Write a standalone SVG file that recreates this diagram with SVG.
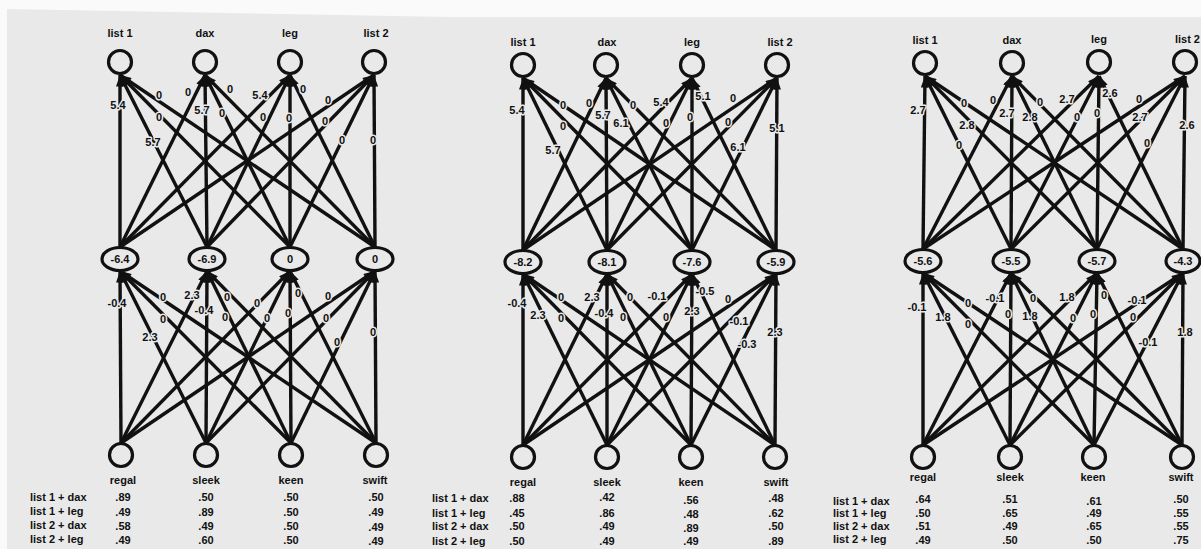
<svg xmlns="http://www.w3.org/2000/svg" width="1201" height="549" viewBox="0 0 1201 549">
  <style>
    .e { stroke: #111; stroke-width: 3.4; fill: none; marker-end: url(#ah); }
    .nd { fill: none; stroke: #111; stroke-width: 3.2; }
    text { font-family: "Liberation Sans", Arial, Helvetica, sans-serif; font-weight: bold; fill: #111; }
    .lb { font-size: 11px; text-anchor: middle; }
    .w { font-size: 11px; text-anchor: middle; stroke: #e9e9e9; stroke-width: 3; paint-order: stroke; stroke-linejoin: round; }
    .hv { font-size: 11px; text-anchor: middle; }
    .rl { font-size: 11px; text-anchor: start; }
    .v { font-size: 11px; text-anchor: middle; }
  </style>
  <defs>
    <marker id="ah" viewBox="0 0 10 7" refX="10" refY="3.5" markerWidth="12" markerHeight="8" markerUnits="userSpaceOnUse" orient="auto">
      <path d="M0,0 L10,3.5 L0,7 z" fill="#111"/>
    </marker>
  </defs>

  <!-- page -->
  <rect x="0" y="0" width="1201" height="549" fill="#fafafa"/>
  <polygon points="7,9 450,17 1201,17 1201,549 7,549" fill="#e9e9e9"/>

  <!-- ===== Network 1 ===== -->
  <g id="net1-connectors">
    <line class="e" x1="120" y1="247" x2="120" y2="75"/>
    <line class="e" x1="207" y1="247" x2="120" y2="75"/>
    <line class="e" x1="290" y1="247" x2="120" y2="75"/>
    <line class="e" x1="375" y1="247" x2="120" y2="75"/>
    <line class="e" x1="120" y1="247" x2="205" y2="75"/>
    <line class="e" x1="207" y1="247" x2="205" y2="75"/>
    <line class="e" x1="290" y1="247" x2="205" y2="75"/>
    <line class="e" x1="375" y1="247" x2="205" y2="75"/>
    <line class="e" x1="120" y1="247" x2="290" y2="75"/>
    <line class="e" x1="207" y1="247" x2="290" y2="75"/>
    <line class="e" x1="290" y1="247" x2="290" y2="75"/>
    <line class="e" x1="375" y1="247" x2="290" y2="75"/>
    <line class="e" x1="120" y1="247" x2="374" y2="75"/>
    <line class="e" x1="207" y1="247" x2="374" y2="75"/>
    <line class="e" x1="290" y1="247" x2="374" y2="75"/>
    <line class="e" x1="375" y1="247" x2="374" y2="75"/>

    <line class="e" x1="121" y1="443" x2="120" y2="271"/>
    <line class="e" x1="206" y1="443" x2="120" y2="271"/>
    <line class="e" x1="291" y1="443" x2="120" y2="271"/>
    <line class="e" x1="376" y1="443" x2="120" y2="271"/>
    <line class="e" x1="121" y1="443" x2="207" y2="271"/>
    <line class="e" x1="206" y1="443" x2="207" y2="271"/>
    <line class="e" x1="291" y1="443" x2="207" y2="271"/>
    <line class="e" x1="376" y1="443" x2="207" y2="271"/>
    <line class="e" x1="121" y1="443" x2="290" y2="271"/>
    <line class="e" x1="206" y1="443" x2="290" y2="271"/>
    <line class="e" x1="291" y1="443" x2="290" y2="271"/>
    <line class="e" x1="376" y1="443" x2="290" y2="271"/>
    <line class="e" x1="121" y1="443" x2="375" y2="271"/>
    <line class="e" x1="206" y1="443" x2="375" y2="271"/>
    <line class="e" x1="291" y1="443" x2="375" y2="271"/>
    <line class="e" x1="376" y1="443" x2="375" y2="271"/>

    <!-- weights, hidden to output -->
    <text class="w" x="118" y="109">5.4</text>
    <text class="w" x="159" y="99">0</text>
    <text class="w" x="159" y="121">0</text>
    <text class="w" x="153" y="146">5.7</text>
    <text class="w" x="188" y="96">0</text>
    <text class="w" x="202" y="114">5.7</text>
    <text class="w" x="222" y="117">0</text>
    <text class="w" x="230" y="93">0</text>
    <text class="w" x="260" y="99">5.4</text>
    <text class="w" x="263" y="121">0</text>
    <text class="w" x="289" y="122">0</text>
    <text class="w" x="303" y="93">0</text>
    <text class="w" x="328" y="104">0</text>
    <text class="w" x="325" y="125">0</text>
    <text class="w" x="342" y="144">0</text>
    <text class="w" x="373" y="144">0</text>
    <!-- weights, input to hidden -->
    <text class="w" x="117" y="307">-0.4</text>
    <text class="w" x="163" y="301">0</text>
    <text class="w" x="163" y="323">0</text>
    <text class="w" x="150" y="341">2.3</text>
    <text class="w" x="192" y="299">2.3</text>
    <text class="w" x="204" y="314">-0.4</text>
    <text class="w" x="227" y="301">0</text>
    <text class="w" x="225" y="321">0</text>
    <text class="w" x="257" y="307">0</text>
    <text class="w" x="267" y="322">0</text>
    <text class="w" x="288" y="317">0</text>
    <text class="w" x="298" y="297">0</text>
    <text class="w" x="328" y="300">0</text>
    <text class="w" x="326" y="322">0</text>
    <text class="w" x="337" y="346">0</text>
    <text class="w" x="373" y="336">0</text>
  </g>

  <g id="n1-list1"><circle class="nd" cx="120" cy="62" r="11.5"/><text class="lb" x="120" y="37">list 1</text></g>
  <g id="n1-dax"><circle class="nd" cx="205" cy="62" r="11.5"/><text class="lb" x="205" y="37">dax</text></g>
  <g id="n1-leg"><circle class="nd" cx="290" cy="62" r="11.5"/><text class="lb" x="290" y="37">leg</text></g>
  <g id="n1-list2"><circle class="nd" cx="374" cy="62" r="11.5"/><text class="lb" x="376" y="37">list 2</text></g>

  <g id="n1-h1"><ellipse class="nd" cx="120" cy="259" rx="18" ry="11.5"/><text class="hv" x="120" y="263">-6.4</text></g>
  <g id="n1-h2"><ellipse class="nd" cx="207" cy="259" rx="18" ry="11.5"/><text class="hv" x="207" y="263">-6.9</text></g>
  <g id="n1-h3"><ellipse class="nd" cx="290" cy="259" rx="18" ry="11.5"/><text class="hv" x="290" y="263">0</text></g>
  <g id="n1-h4"><ellipse class="nd" cx="375" cy="259" rx="18" ry="11.5"/><text class="hv" x="375" y="263">0</text></g>

  <g id="n1-regal"><circle class="nd" cx="121" cy="455" r="11.5"/><text class="lb" x="123" y="484">regal</text></g>
  <g id="n1-sleek"><circle class="nd" cx="206" cy="455" r="11.5"/><text class="lb" x="206" y="484">sleek</text></g>
  <g id="n1-keen"><circle class="nd" cx="291" cy="455" r="11.5"/><text class="lb" x="291" y="484">keen</text></g>
  <g id="n1-swift"><circle class="nd" cx="376" cy="455" r="11.5"/><text class="lb" x="375" y="484">swift</text></g>

  <g id="n1-table">
    <text class="rl" x="30" y="501">list 1 + dax</text>
    <text class="rl" x="30" y="515">list 1 + leg</text>
    <text class="rl" x="30" y="529">list 2 + dax</text>
    <text class="rl" x="30" y="543">list 2 + leg</text>
    <text class="v" x="123" y="501">.89</text><text class="v" x="123" y="516">.49</text><text class="v" x="123" y="530">.58</text><text class="v" x="123" y="544">.49</text>
    <text class="v" x="206" y="501">.50</text><text class="v" x="206" y="516">.89</text><text class="v" x="206" y="530">.49</text><text class="v" x="206" y="544">.60</text>
    <text class="v" x="291" y="501">.50</text><text class="v" x="291" y="516">.50</text><text class="v" x="291" y="530">.50</text><text class="v" x="291" y="544">.50</text>
    <text class="v" x="376" y="501">.50</text><text class="v" x="376" y="516">.49</text><text class="v" x="376" y="531">.49</text><text class="v" x="376" y="545">.49</text>
  </g>

  <!-- ===== Network 2 ===== -->
  <g id="net2-connectors">
    <line class="e" x1="523" y1="250" x2="523" y2="78"/>
    <line class="e" x1="607" y1="250" x2="523" y2="78"/>
    <line class="e" x1="692" y1="250" x2="523" y2="78"/>
    <line class="e" x1="776" y1="250" x2="523" y2="78"/>
    <line class="e" x1="523" y1="250" x2="606" y2="78"/>
    <line class="e" x1="607" y1="250" x2="606" y2="78"/>
    <line class="e" x1="692" y1="250" x2="606" y2="78"/>
    <line class="e" x1="776" y1="250" x2="606" y2="78"/>
    <line class="e" x1="523" y1="250" x2="692" y2="78"/>
    <line class="e" x1="607" y1="250" x2="692" y2="78"/>
    <line class="e" x1="692" y1="250" x2="692" y2="78"/>
    <line class="e" x1="776" y1="250" x2="692" y2="78"/>
    <line class="e" x1="523" y1="250" x2="777" y2="78"/>
    <line class="e" x1="607" y1="250" x2="777" y2="78"/>
    <line class="e" x1="692" y1="250" x2="777" y2="78"/>
    <line class="e" x1="776" y1="250" x2="777" y2="78"/>

    <line class="e" x1="523" y1="445" x2="523" y2="274"/>
    <line class="e" x1="607" y1="445" x2="523" y2="274"/>
    <line class="e" x1="691" y1="445" x2="523" y2="274"/>
    <line class="e" x1="775" y1="445" x2="523" y2="274"/>
    <line class="e" x1="523" y1="445" x2="607" y2="274"/>
    <line class="e" x1="607" y1="445" x2="607" y2="274"/>
    <line class="e" x1="691" y1="445" x2="607" y2="274"/>
    <line class="e" x1="775" y1="445" x2="607" y2="274"/>
    <line class="e" x1="523" y1="445" x2="692" y2="274"/>
    <line class="e" x1="607" y1="445" x2="692" y2="274"/>
    <line class="e" x1="691" y1="445" x2="692" y2="274"/>
    <line class="e" x1="775" y1="445" x2="692" y2="274"/>
    <line class="e" x1="523" y1="445" x2="776" y2="274"/>
    <line class="e" x1="607" y1="445" x2="776" y2="274"/>
    <line class="e" x1="691" y1="445" x2="776" y2="274"/>
    <line class="e" x1="775" y1="445" x2="776" y2="274"/>

    <text class="w" x="517" y="114">5.4</text>
    <text class="w" x="563" y="109">0</text>
    <text class="w" x="563" y="130">0</text>
    <text class="w" x="553" y="154">5.7</text>
    <text class="w" x="589" y="107">0</text>
    <text class="w" x="603" y="119">5.7</text>
    <text class="w" x="621" y="127">6.1</text>
    <text class="w" x="633" y="109">0</text>
    <text class="w" x="661" y="106">5.4</text>
    <text class="w" x="666" y="127">0</text>
    <text class="w" x="690" y="121">0</text>
    <text class="w" x="703" y="100">5.1</text>
    <text class="w" x="733" y="102">0</text>
    <text class="w" x="728" y="126">0</text>
    <text class="w" x="738" y="151">6.1</text>
    <text class="w" x="777" y="132">5.1</text>

    <text class="w" x="517" y="307">-0.4</text>
    <text class="w" x="538" y="319">2.3</text>
    <text class="w" x="561" y="301">0</text>
    <text class="w" x="561" y="322">0</text>
    <text class="w" x="592" y="301">2.3</text>
    <text class="w" x="604" y="317">-0.4</text>
    <text class="w" x="630" y="301">0</text>
    <text class="w" x="623" y="321">0</text>
    <text class="w" x="657" y="300">-0.1</text>
    <text class="w" x="666" y="321">0</text>
    <text class="w" x="692" y="315">2.3</text>
    <text class="w" x="705" y="295">-0.5</text>
    <text class="w" x="728" y="303">0</text>
    <text class="w" x="739" y="325">-0.1</text>
    <text class="w" x="747" y="348">-0.3</text>
    <text class="w" x="775" y="336">2.3</text>
  </g>

  <g id="n2-list1"><circle class="nd" cx="523" cy="65" r="11.5"/><text class="lb" x="523" y="46">list 1</text></g>
  <g id="n2-dax"><circle class="nd" cx="606" cy="65" r="11.5"/><text class="lb" x="607" y="46">dax</text></g>
  <g id="n2-leg"><circle class="nd" cx="692" cy="65" r="11.5"/><text class="lb" x="692" y="46">leg</text></g>
  <g id="n2-list2"><circle class="nd" cx="777" cy="65" r="11.5"/><text class="lb" x="780" y="46">list 2</text></g>

  <g id="n2-h1"><ellipse class="nd" cx="523" cy="262" rx="18" ry="11.5"/><text class="hv" x="523" y="266">-8.2</text></g>
  <g id="n2-h2"><ellipse class="nd" cx="607" cy="262" rx="18" ry="11.5"/><text class="hv" x="607" y="266">-8.1</text></g>
  <g id="n2-h3"><ellipse class="nd" cx="692" cy="262" rx="18" ry="11.5"/><text class="hv" x="692" y="266">-7.6</text></g>
  <g id="n2-h4"><ellipse class="nd" cx="776" cy="262" rx="18" ry="11.5"/><text class="hv" x="776" y="266">-5.9</text></g>

  <g id="n2-regal"><circle class="nd" cx="523" cy="457" r="11.5"/><text class="lb" x="523" y="486">regal</text></g>
  <g id="n2-sleek"><circle class="nd" cx="607" cy="457" r="11.5"/><text class="lb" x="607" y="486">sleek</text></g>
  <g id="n2-keen"><circle class="nd" cx="691" cy="457" r="11.5"/><text class="lb" x="691" y="486">keen</text></g>
  <g id="n2-swift"><circle class="nd" cx="775" cy="457" r="11.5"/><text class="lb" x="776" y="486">swift</text></g>

  <g id="n2-table">
    <text class="rl" x="432" y="502">list 1 + dax</text>
    <text class="rl" x="432" y="517">list 1 + leg</text>
    <text class="rl" x="432" y="530">list 2 + dax</text>
    <text class="rl" x="432" y="545">list 2 + leg</text>
    <text class="v" x="517" y="502">.88</text><text class="v" x="517" y="517">.45</text><text class="v" x="517" y="530">.50</text><text class="v" x="517" y="545">.50</text>
    <text class="v" x="607" y="501">.42</text><text class="v" x="607" y="517">.86</text><text class="v" x="607" y="530">.49</text><text class="v" x="607" y="545">.49</text>
    <text class="v" x="691" y="504">.56</text><text class="v" x="691" y="518">.48</text><text class="v" x="691" y="532">.89</text><text class="v" x="691" y="545">.49</text>
    <text class="v" x="776" y="502">.48</text><text class="v" x="776" y="517">.62</text><text class="v" x="776" y="530">.50</text><text class="v" x="776" y="545">.89</text>
  </g>

  <!-- ===== Network 3 ===== -->
  <g id="net3-connectors">
    <line class="e" x1="923" y1="249" x2="925" y2="76"/>
    <line class="e" x1="1011" y1="249" x2="925" y2="76"/>
    <line class="e" x1="1097" y1="249" x2="925" y2="76"/>
    <line class="e" x1="1183" y1="249" x2="925" y2="76"/>
    <line class="e" x1="923" y1="249" x2="1012" y2="76"/>
    <line class="e" x1="1011" y1="249" x2="1012" y2="76"/>
    <line class="e" x1="1097" y1="249" x2="1012" y2="76"/>
    <line class="e" x1="1183" y1="249" x2="1012" y2="76"/>
    <line class="e" x1="923" y1="249" x2="1099" y2="76"/>
    <line class="e" x1="1011" y1="249" x2="1099" y2="76"/>
    <line class="e" x1="1097" y1="249" x2="1099" y2="76"/>
    <line class="e" x1="1183" y1="249" x2="1099" y2="76"/>
    <line class="e" x1="923" y1="249" x2="1185" y2="76"/>
    <line class="e" x1="1011" y1="249" x2="1185" y2="76"/>
    <line class="e" x1="1097" y1="249" x2="1185" y2="76"/>
    <line class="e" x1="1183" y1="249" x2="1185" y2="76"/>

    <line class="e" x1="923" y1="445" x2="923" y2="273"/>
    <line class="e" x1="1010" y1="445" x2="923" y2="273"/>
    <line class="e" x1="1094" y1="445" x2="923" y2="273"/>
    <line class="e" x1="1182" y1="445" x2="923" y2="273"/>
    <line class="e" x1="923" y1="445" x2="1011" y2="273"/>
    <line class="e" x1="1010" y1="445" x2="1011" y2="273"/>
    <line class="e" x1="1094" y1="445" x2="1011" y2="273"/>
    <line class="e" x1="1182" y1="445" x2="1011" y2="273"/>
    <line class="e" x1="923" y1="445" x2="1097" y2="273"/>
    <line class="e" x1="1010" y1="445" x2="1097" y2="273"/>
    <line class="e" x1="1094" y1="445" x2="1097" y2="273"/>
    <line class="e" x1="1182" y1="445" x2="1097" y2="273"/>
    <line class="e" x1="923" y1="445" x2="1183" y2="273"/>
    <line class="e" x1="1010" y1="445" x2="1183" y2="273"/>
    <line class="e" x1="1094" y1="445" x2="1183" y2="273"/>
    <line class="e" x1="1182" y1="445" x2="1183" y2="273"/>

    <text class="w" x="918" y="114">2.7</text>
    <text class="w" x="964" y="107">0</text>
    <text class="w" x="967" y="129">2.8</text>
    <text class="w" x="959" y="149">0</text>
    <text class="w" x="993" y="104">0</text>
    <text class="w" x="1007" y="117">2.7</text>
    <text class="w" x="1030" y="121">2.8</text>
    <text class="w" x="1040" y="106">0</text>
    <text class="w" x="1067" y="103">2.7</text>
    <text class="w" x="1077" y="121">0</text>
    <text class="w" x="1097" y="117">0</text>
    <text class="w" x="1110" y="97">2.6</text>
    <text class="w" x="1139" y="103">0</text>
    <text class="w" x="1140" y="121">2.7</text>
    <text class="w" x="1147" y="147">0</text>
    <text class="w" x="1187" y="129">2.6</text>

    <text class="w" x="917" y="311">-0.1</text>
    <text class="w" x="943" y="321">1.8</text>
    <text class="w" x="968" y="307">0</text>
    <text class="w" x="968" y="328">0</text>
    <text class="w" x="995" y="302">-0.1</text>
    <text class="w" x="1008" y="318">0</text>
    <text class="w" x="1030" y="320">1.8</text>
    <text class="w" x="1033" y="302">0</text>
    <text class="w" x="1067" y="301">1.8</text>
    <text class="w" x="1073" y="322">0</text>
    <text class="w" x="1093" y="318">0</text>
    <text class="w" x="1104" y="299">0</text>
    <text class="w" x="1137" y="304">-0.1</text>
    <text class="w" x="1133" y="321">0</text>
    <text class="w" x="1148" y="346">-0.1</text>
    <text class="w" x="1185" y="336">1.8</text>
  </g>

  <g id="n3-list1"><circle class="nd" cx="925" cy="63" r="11.5"/><text class="lb" x="925" y="44">list 1</text></g>
  <g id="n3-dax"><circle class="nd" cx="1012" cy="63" r="11.5"/><text class="lb" x="1012" y="44">dax</text></g>
  <g id="n3-leg"><circle class="nd" cx="1099" cy="62" r="11.5"/><text class="lb" x="1099" y="43">leg</text></g>
  <g id="n3-list2"><circle class="nd" cx="1185" cy="62" r="11.5"/><text class="lb" x="1200" y="43" style="text-anchor:end">list 2</text></g>

  <g id="n3-h1"><ellipse class="nd" cx="923" cy="261" rx="18" ry="11.5"/><text class="hv" x="923" y="265">-5.6</text></g>
  <g id="n3-h2"><ellipse class="nd" cx="1011" cy="261" rx="18" ry="11.5"/><text class="hv" x="1011" y="265">-5.5</text></g>
  <g id="n3-h3"><ellipse class="nd" cx="1097" cy="261" rx="18" ry="11.5"/><text class="hv" x="1097" y="265">-5.7</text></g>
  <g id="n3-h4"><ellipse class="nd" cx="1183" cy="261" rx="17" ry="11.5"/><text class="hv" x="1183" y="265">-4.3</text></g>

  <g id="n3-regal"><circle class="nd" cx="923" cy="457" r="11.5"/><text class="lb" x="923" y="481">regal</text></g>
  <g id="n3-sleek"><circle class="nd" cx="1010" cy="457" r="11.5"/><text class="lb" x="1010" y="481">sleek</text></g>
  <g id="n3-keen"><circle class="nd" cx="1094" cy="457" r="11.5"/><text class="lb" x="1093" y="481">keen</text></g>
  <g id="n3-swift"><circle class="nd" cx="1182" cy="457" r="11.5"/><text class="lb" x="1181" y="481">swift</text></g>

  <g id="n3-table">
    <text class="rl" x="833" y="505">list 1 + dax</text>
    <text class="rl" x="833" y="517">list 1 + leg</text>
    <text class="rl" x="833" y="530">list 2 + dax</text>
    <text class="rl" x="833" y="543">list 2 + leg</text>
    <text class="v" x="923" y="503">.64</text><text class="v" x="923" y="517">.50</text><text class="v" x="923" y="530">.51</text><text class="v" x="923" y="544">.49</text>
    <text class="v" x="1010" y="503">.51</text><text class="v" x="1010" y="517">.65</text><text class="v" x="1010" y="530">.49</text><text class="v" x="1010" y="544">.50</text>
    <text class="v" x="1094" y="505">.61</text><text class="v" x="1094" y="517">.49</text><text class="v" x="1094" y="530">.65</text><text class="v" x="1094" y="544">.50</text>
    <text class="v" x="1181" y="503">.50</text><text class="v" x="1181" y="517">.55</text><text class="v" x="1181" y="530">.55</text><text class="v" x="1181" y="544">.75</text>
  </g>
</svg>
